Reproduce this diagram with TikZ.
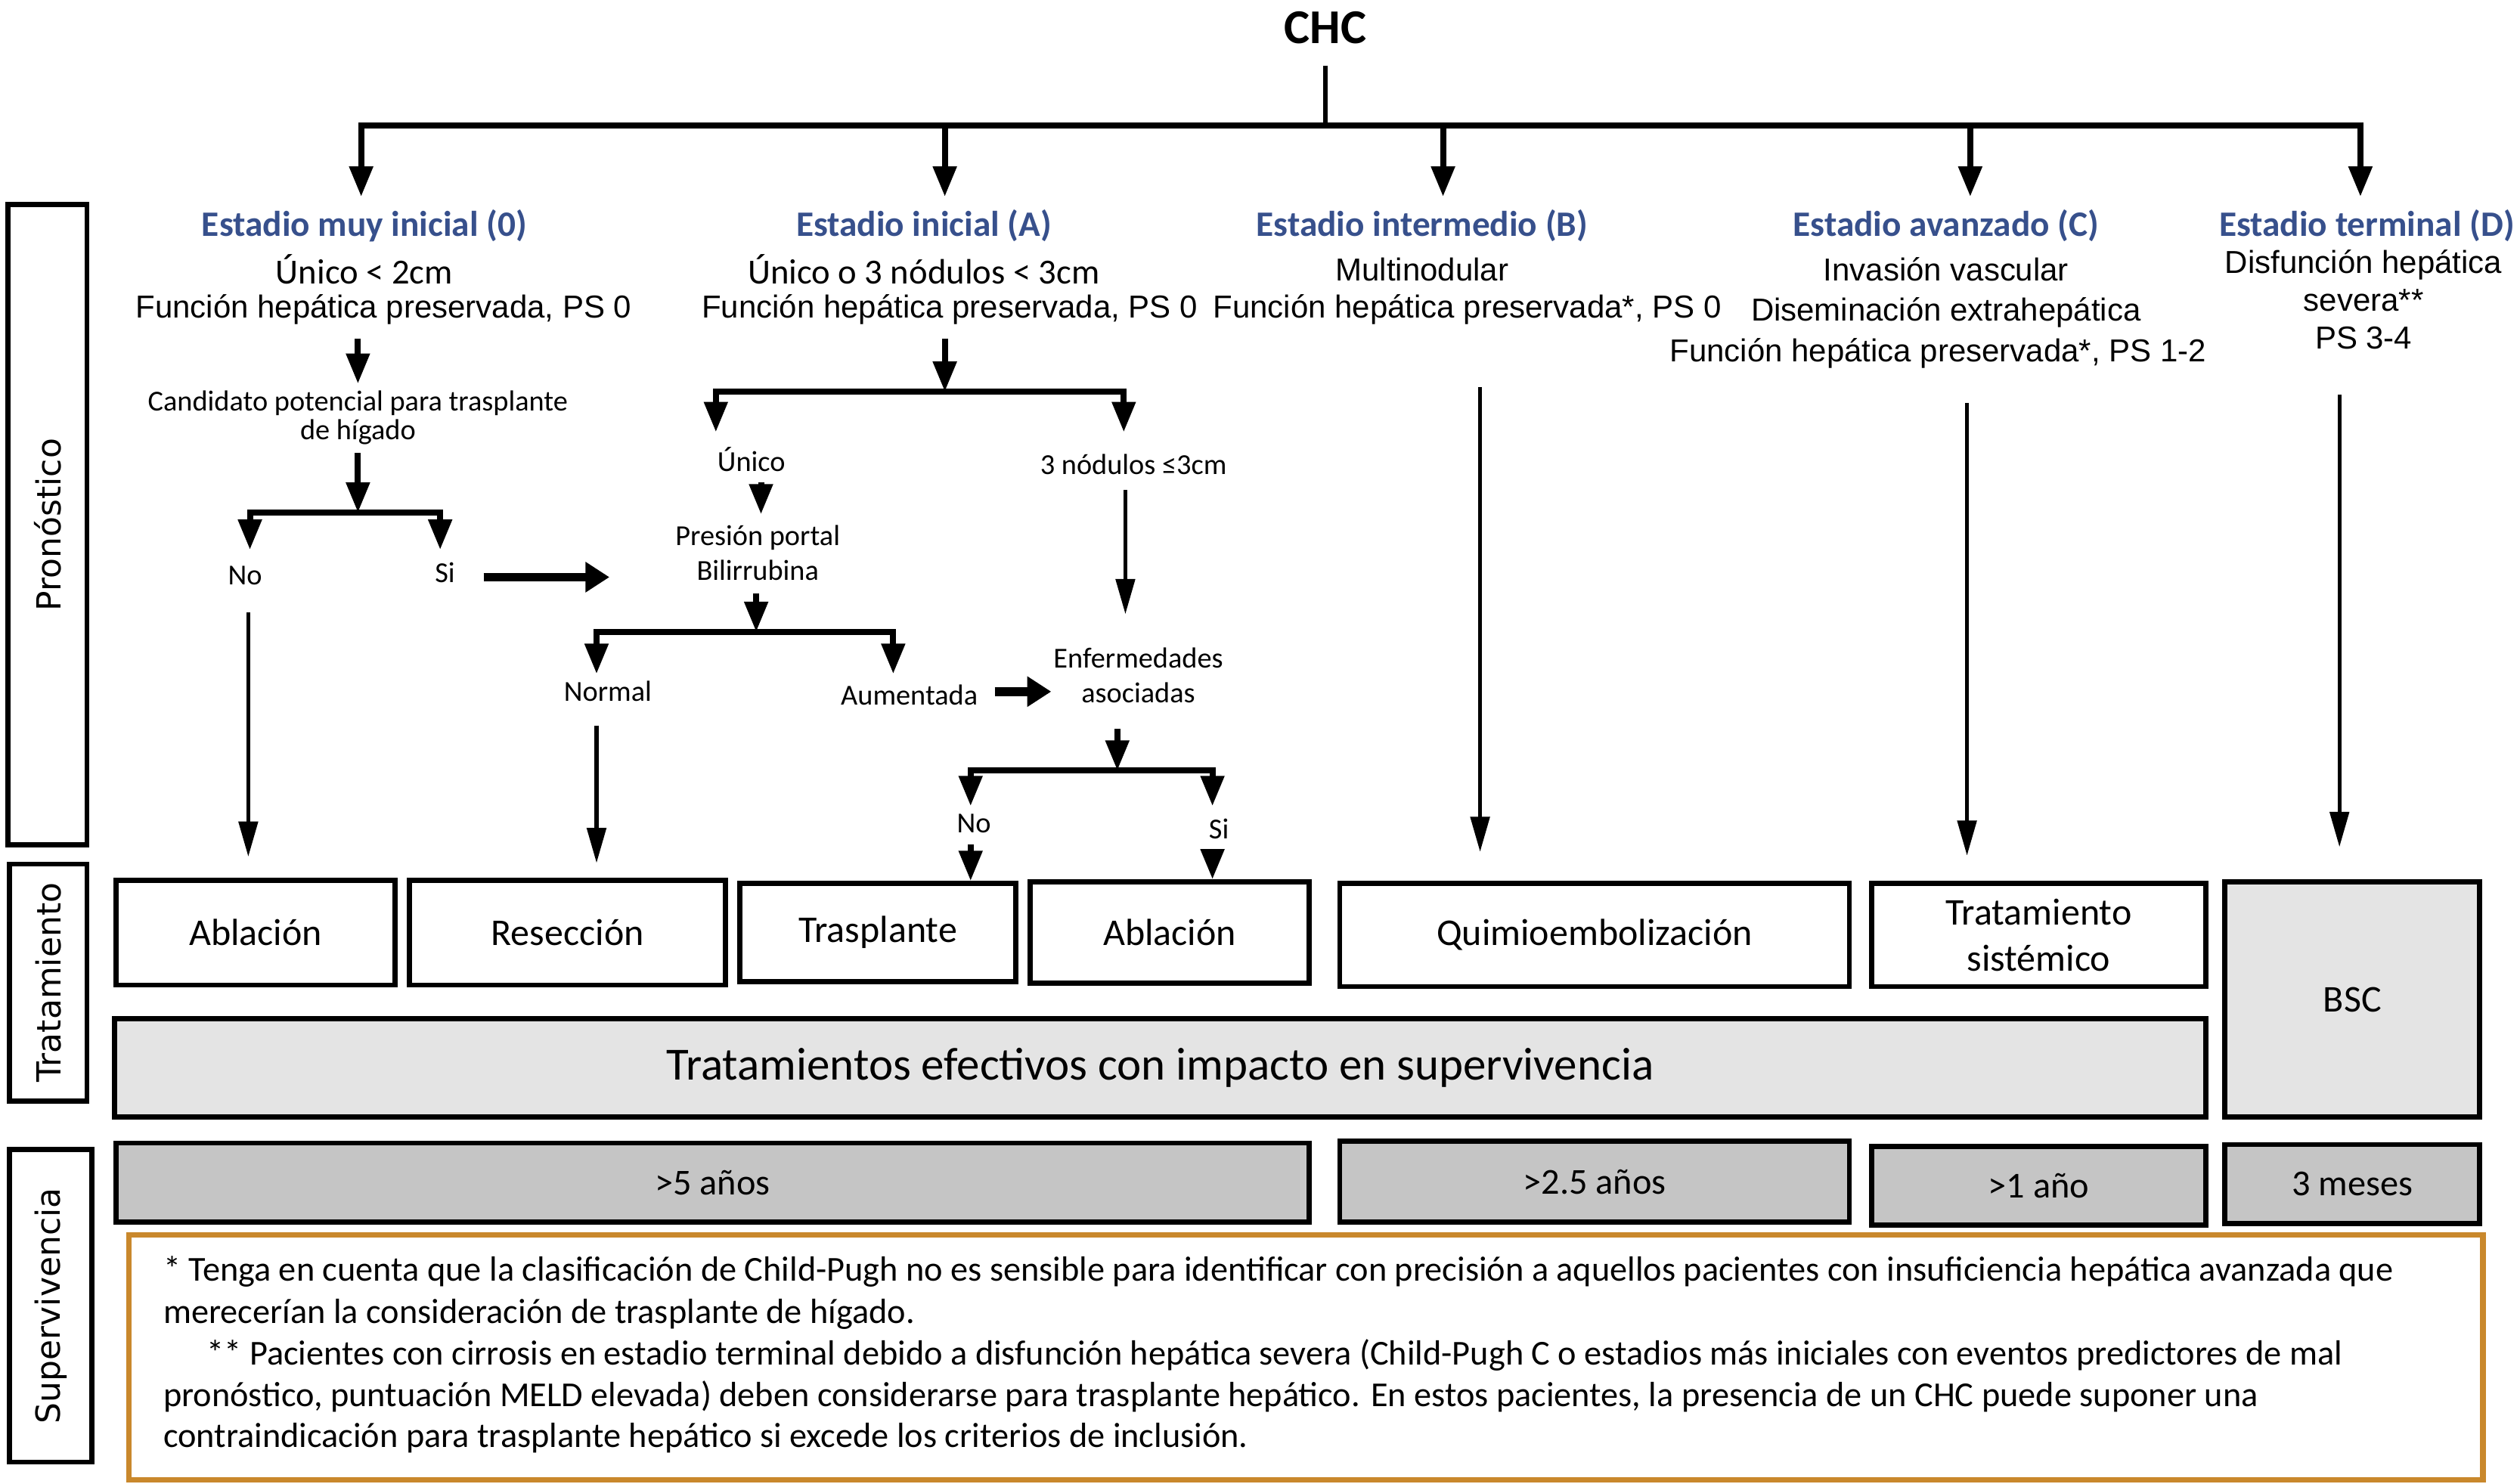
\documentclass[tikz,border=0pt]{standalone}
\usepackage{fontspec}
\setmainfont{Carlito}
\newfontfamily\arialf{Liberation Sans}
\newfontfamily\dejavu{DejaVu Sans}
\usetikzlibrary{arrows.meta}
\definecolor{stageblue}{RGB}{55,80,140}
\definecolor{lgray}{RGB}{228,228,228}
\definecolor{dgray}{RGB}{197,197,197}
\definecolor{footor}{RGB}{201,136,44}
\tikzset{
  lab/.style={inner sep=0pt, align=center, font=\fontsize{11.5}{11.5}\selectfont},
  cal/.style={inner sep=0pt, font=\fontsize{14}{16}\selectfont},
  ari/.style={inner sep=0pt, align=center, font=\arialf\fontsize{12.6}{15}\selectfont},
  stage/.style={inner sep=0pt, font=\bfseries\fontsize{14.2}{16}\selectfont, text=stageblue},
  tbox/.style={draw, line width=2pt, inner sep=0pt, align=center, font=\fontsize{15}{18.5}\selectfont},
  sbox/.style={tbox, fill=dgray, font=\fontsize{14.5}{16}\selectfont},
  side/.style={draw, line width=2pt, inner sep=0pt, rotate=90, font=\dejavu\fontsize{13.2}{15}\selectfont},
  fnote/.style={inner sep=0pt, anchor=west, text height=9pt, text depth=3pt, font=\fontsize{13.9}{15}\selectfont},
  stem/.style={line width=2.4pt},
  arrA/.style={line width=2.4pt, line join=miter, -{Triangle[width=9pt,length=12pt]}},
  arrT/.style={line width=1.6pt, -{Triangle[width=7.5pt,length=14pt]}},
  arrR/.style={line width=3.4pt, -{Triangle[width=11.5pt,length=9.5pt]}},
}
\begin{document}
\begin{tikzpicture}[x=0.64pt,y=-0.64pt]
\useasboundingbox (0,0) rectangle (1563,920.5);

% ---------- title and top distribution ----------
\node[inner sep=0pt, font=\bfseries\fontsize{19.3}{20}\selectfont] (chc) at (822,17) {CHC};
\coordinate (top) at (822,78);
\draw[line width=1.9pt] ([yshift=-8.5pt]chc.south) -- (top);
\coordinate (t0) at (224,122);
\coordinate (t1) at (586,122);
\coordinate (t2) at (895,122);
\coordinate (t3) at (1222,122);
\coordinate (t4) at (1464,122);
\coordinate (h1) at (586,78);
\coordinate (h2) at (895,78);
\coordinate (h3) at (1222,78);
\draw[arrA] (top) -| (t0);
\draw[arrA] (top) -| (t4);
\draw[arrA] (h1) -- (t1);
\draw[arrA] (h2) -- (t2);
\draw[arrA] (h3) -- (t3);

% ---------- stage headers ----------
\node[stage] (s0) at (226,140) {Estadio muy inicial (0)};
\node[stage] (s1) at (573,140) {Estadio inicial (A)};
\node[stage] (s2) at (882,140) {Estadio intermedio (B)};
\node[stage] (s3) at (1207,140) {Estadio avanzado (C)};
\node[stage] (s4) at (1468,140) {Estadio terminal (D)};

% ---------- column 0 ----------
\node[cal] (u0) at (226,167) {Único < 2cm};
\node[ari] (f0) at (238,192) {Función hepática preservada, PS 0};
\node[lab] (cand) at (222,259) {Candidato potencial para trasplante\\de hígado};
\node[lab] (no0) at (152,357) {No};
\node[lab] (si0) at (276,355) {Si};
\coordinate (a0s) at (222,210);
\coordinate (a0e) at (222,238);
\draw[arrA] (a0s) -- (a0e);
\coordinate (b0s) at (222,281);
\coordinate (b0) at (222,318);
\draw[arrA] (b0s) -- (b0);
\coordinate (n0t) at (155,341);
\coordinate (s0t) at (273,341);
\draw[arrA] (b0) -| (n0t);
\draw[arrA] (b0) -| (s0t);
\coordinate (r0s) at (300,358);
\coordinate (r0e) at (378,358);
\draw[arrR] (r0s) -- (r0e);

% ---------- column A ----------
\node[cal] (u1) at (573,167) {Único o 3 nódulos < 3cm};
\node[ari] (f1) at (589,192) {Función hepática preservada, PS 0};
\node[lab] (unico) at (466,285) {Único};
\node[lab] (tres) at (703,288) {3 nódulos ≤3cm};
\node[lab, font=\fontsize{11.5}{14}\selectfont] (pres) at (470,343) {Presión portal\\Bilirrubina};
\node[lab] (normal) at (377,429) {Normal};
\node[lab] (aum) at (564,431) {Aumentada};
\node[lab, font=\fontsize{11.5}{14}\selectfont] (enf) at (706,419) {Enfermedades\\asociadas};
\node[lab] (no1) at (604,511) {No};
\node[lab] (si1) at (756,514) {Si};
\coordinate (a1s) at (586,210);
\coordinate (b1) at (586,243);
\draw[arrA] (a1s) -- (b1);
\coordinate (un1t) at (444,268);
\coordinate (tr1t) at (697,268);
\draw[arrA] (b1) -| (un1t);
\draw[arrA] (b1) -| (tr1t);
\coordinate (up1s) at (472,299);
\coordinate (up1e) at (472,319);
\draw[arrA] (up1s) -- (up1e);
\coordinate (a2s) at (469,368);
\coordinate (b2) at (469,392);
\draw[arrA] (a2s) -- (b2);
\coordinate (nm2t) at (370,418);
\coordinate (au2t) at (554,418);
\draw[arrA] (b2) -| (nm2t);
\draw[arrA] (b2) -| (au2t);
\coordinate (r1s) at (617,429);
\coordinate (r1e) at (652,429);
\draw[arrR] (r1s) -- (r1e);
\coordinate (tr1s) at (698,304);
\coordinate (tr1e) at (698,381);
\draw[arrT] (tr1s) -- (tr1e);
\coordinate (a3s) at (693,452);
\coordinate (b3) at (693,478);
\draw[arrA] (a3s) -- (b3);
\coordinate (no3t) at (602,500);
\coordinate (si3t) at (752,500);
\draw[arrA] (b3) -| (no3t);
\draw[arrA] (b3) -| (si3t);

% ---------- column B, C, D ----------
\node[ari] (mult) at (882,167) {Multinodular};
\node[ari] (f2) at (910,192) {Función hepática preservada*, PS 0};
\node[ari] (inv) at (1207,167) {Invasión vascular};
\node[ari] (dis) at (1207,194) {Diseminación extrahepática};
\node[ari] (f3) at (1202,219) {Función hepática preservada*, PS 1-2};
\node[ari, font=\arialf\fontsize{12.6}{15}\selectfont] (dysf) at (1466,186) {Disfunción hepática\\severa**\\PS 3-4};

% ---------- treatment boxes ----------
\node[tbox, minimum width={173*0.64pt}, minimum height={65*0.64pt}] (abl1) at (158.5,578.5) {Ablación};
\node[tbox, minimum width={196*0.64pt}, minimum height={65*0.64pt}] (res) at (352,578.5) {Resección};
\node[tbox, minimum width={171*0.64pt}, minimum height={61*0.64pt}] (trasp) at (544.5,578.5) {Trasplante};
\node[tbox, minimum width={173*0.64pt}, minimum height={63*0.64pt}] (abl2) at (725.5,578.5) {Ablación};
\node[tbox, minimum width={316*0.64pt}, minimum height={64*0.64pt}] (quim) at (989,580) {Quimioembolización};
\node[tbox, minimum width={207*0.64pt}, minimum height={64*0.64pt}] (tsis) at (1264.5,580) {Tratamiento\\sistémico};
\node[tbox, fill=lgray, minimum width={158*0.64pt}, minimum height={146*0.64pt}] (bsc) at (1459,620) {BSC};
\node[tbox, fill=lgray, font=\fontsize{18.3}{20}\selectfont, minimum width={1297*0.64pt}, minimum height={61*0.64pt}] (tref) at (719.5,662.5) {Tratamientos efectivos con impacto en supervivencia};

% ---------- long arrows into boxes ----------
\coordinate (n0s) at (154,380);
\draw[arrT, shorten >=8.3pt] (n0s) -- (n0s |- abl1.north);
\coordinate (nms) at (370,450);
\draw[arrT, shorten >=5.8pt] (nms) -- (nms |- res.north);
\coordinate (no1s) at (602,524);
\draw[arrA] (no1s) -- (no1s |- trasp.north);
\coordinate (si1s) at (752,527);
\draw[arrA] (si1s) -- (si1s |- abl2.north);
\coordinate (bs) at (918,240);
\draw[arrT, shorten >=11.5pt] (bs) -- (bs |- quim.north);
\coordinate (cs) at (1220,250);
\draw[arrT, shorten >=10pt] (cs) -- (cs |- tsis.north);
\coordinate (ds) at (1451,245);
\draw[arrT, shorten >=12.8pt] (ds) -- (ds |- bsc.north);

% ---------- survival ----------
\node[sbox, minimum width={740*0.64pt}, minimum height={49*0.64pt}] (sv1) at (442,733.5) {>5 años};
\node[sbox, minimum width={316*0.64pt}, minimum height={50*0.64pt}] (sv2) at (989,733) {>2.5 años};
\node[sbox, minimum width={207*0.64pt}, minimum height={49*0.64pt}] (sv3) at (1264.5,735.5) {>1 año};
\node[sbox, minimum width={158*0.64pt}, minimum height={49*0.64pt}] (sv4) at (1459,734.5) {3 meses};

% ---------- side labels ----------
\node[side, minimum width={397*0.64pt}, minimum height={49*0.64pt}] (pron) at (29.5,325.5) {Pronóstico};
\node[side, minimum width={147*0.64pt}, minimum height={48*0.64pt}] (trat) at (30,609.5) {Tratamiento};
\node[side, minimum width={194*0.64pt}, minimum height={51*0.64pt}] (superv) at (31.5,810) {Supervivencia};

% ---------- footnote ----------
\node[draw=footor, line width=2.2pt, inner sep=0pt, minimum width={1460*0.64pt}, minimum height={152*0.64pt}] (foot) at (810,842) {};
\node[fnote] (fn1) at (101,790) {* Tenga en cuenta que la clasificación de Child-Pugh no es sensible para identificar con precisión a aquellos pacientes con insuficiencia hepática avanzada que};
\node[fnote] (fn2) at (101,816) {merecerían la consideración de trasplante de hígado.};
\node[fnote] (fn3) at (128,842) {** Pacientes con cirrosis en estadio terminal debido a disfunción hepática severa (Child-Pugh C o estadios más iniciales con eventos predictores de mal};
\node[fnote] (fn4) at (101,868) {pronóstico, puntuación MELD elevada) deben considerarse para trasplante hepático. En estos pacientes, la presencia de un CHC puede suponer una};
\node[fnote] (fn5) at (101,893) {contraindicación para trasplante hepático si excede los criterios de inclusión.};
\end{tikzpicture}
\end{document}
